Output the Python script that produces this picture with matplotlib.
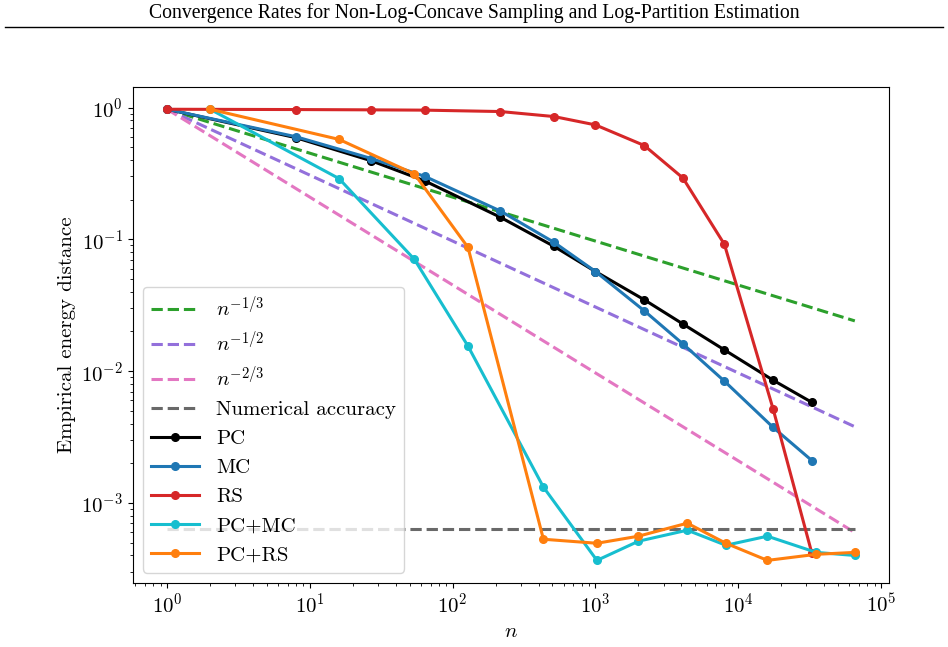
import numpy as np
import matplotlib
matplotlib.use("Agg")
import matplotlib.pyplot as plt

plt.rcParams['font.family'] = ['cmr10', 'DejaVu Serif']
plt.rcParams['mathtext.fontset'] = 'cm'
plt.rcParams['axes.formatter.use_mathtext'] = True

# sample sizes
n_single = [1, 8, 27, 64, 216, 512, 1000, 2197, 4096, 8000, 17576, 32768]
n_double = [2, 16, 54, 128, 432, 1024, 2000, 4394, 8192, 16000, 35152, 65536]

pc = [0.97, 0.59, 0.394, 0.277, 0.147, 0.0885, 0.057, 0.0348, 0.0228, 0.0145, 0.00853, 0.0058]
mc = [0.97, 0.60, 0.41, 0.30, 0.164, 0.095, 0.057, 0.0287, 0.0161, 0.0084, 0.00374, 0.0021]
rs = [0.97, 0.965, 0.96, 0.955, 0.932, 0.854, 0.738, 0.515, 0.292, 0.0916, 0.00513, 0.000416]
pc_mc = [0.97, 0.289, 0.0704, 0.0155, 0.00132, 0.000367, 0.000513, 0.000622, 0.000478, 0.00056, 0.000422, 0.0004]
pc_rs = [0.97, 0.573, 0.313, 0.0869, 0.000531, 0.000495, 0.00056, 0.000703, 0.000495, 0.000367, 0.000408, 0.000422]

num_acc = 6.33e-4
c0 = 0.97
n_ref = np.array([1, 65536])

fig = plt.figure(figsize=(9.48, 6.47), dpi=100)
fig.text(0.5, 0.980, 'Convergence Rates for Non-Log-Concave Sampling and Log-Partition Estimation',
         ha='center', va='center', family='Liberation Serif', fontsize=14.2)
fig.add_artist(plt.Line2D([0.005, 0.995], [0.958, 0.958], color='black', lw=1.0))

ax = fig.add_axes([0.140, 0.099, 0.798, 0.767])
ax.set_xscale('log')
ax.set_yscale('log')

ax.plot(n_ref, c0 * n_ref ** (-1 / 3), '--', color='tab:green', lw=2.2, label=r'$n^{-1/3}$')
ax.plot(n_ref, c0 * n_ref ** (-1 / 2), '--', color='mediumpurple', lw=2.2, label=r'$n^{-1/2}$')
ax.plot(n_ref, c0 * n_ref ** (-2 / 3), '--', color='tab:pink', lw=2.2, label=r'$n^{-2/3}$')
ax.plot(n_ref, [num_acc, num_acc], '--', color='dimgray', lw=2.2, label='Numerical accuracy')

ax.plot(n_single, pc, 'o-', color='black', lw=2.2, ms=5.5, label='PC')
ax.plot(n_single, mc, 'o-', color='tab:blue', lw=2.2, ms=5.5, label='MC')
ax.plot(n_single, rs, 'o-', color='tab:red', lw=2.2, ms=5.5, label='RS')
ax.plot(n_double, pc_mc, 'o-', color='tab:cyan', lw=2.2, ms=5.5, label='PC+MC')
ax.plot(n_double, pc_rs, 'o-', color='tab:orange', lw=2.2, ms=5.5, label='PC+RS')

ax.set_xlabel(r'$n$', fontsize=15)
ax.set_ylabel('Empirical energy distance', fontsize=15)
ax.tick_params(labelsize=15)
ax.legend(loc='lower left', fontsize=15, handlelength=2.3)

fig.savefig('out.png', dpi=100)
